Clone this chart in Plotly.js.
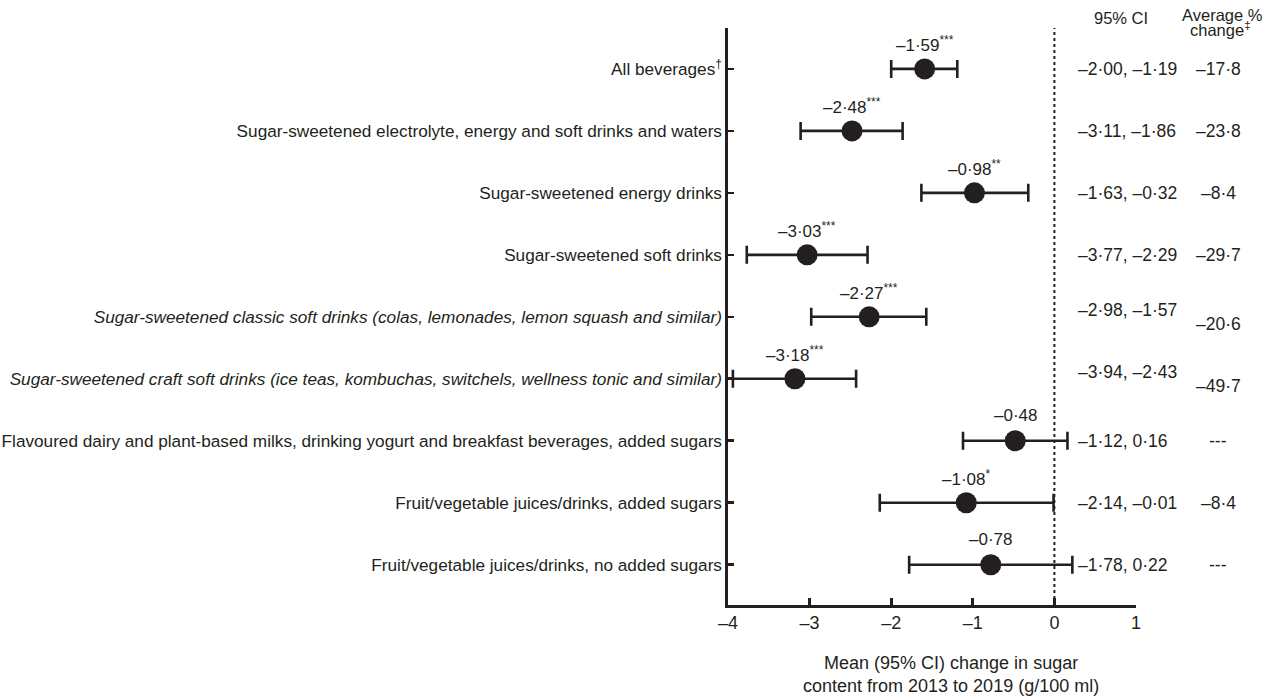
<!DOCTYPE html>
<html>
<head>
<meta charset="utf-8">
<script src="https://cdn.plot.ly/plotly-3.0.1.min.js"></script>
<style>html,body{margin:0;padding:0;background:#fff;}#chart{width:1271px;height:697px;}</style>
</head>
<body>
<div id="chart"></div>
<script>
const categories = [
  "All beverages<sup>†</sup>",
  "Sugar-sweetened electrolyte, energy and soft drinks and waters",
  "Sugar-sweetened energy drinks",
  "Sugar-sweetened soft drinks",
  "<i>Sugar-sweetened classic soft drinks (colas, lemonades, lemon squash and similar)</i>",
  "<i>Sugar-sweetened craft soft drinks (ice teas, kombuchas, switchels, wellness tonic and similar)</i>",
  "Flavoured dairy and plant-based milks, drinking yogurt and breakfast beverages, added sugars",
  "Fruit/vegetable juices/drinks, added sugars",
  "Fruit/vegetable juices/drinks, no added sugars"
];
const means = [-1.59, -2.48, -0.98, -3.03, -2.27, -3.18, -0.48, -1.08, -0.78];
const ciLow = [-2.00, -3.11, -1.63, -3.77, -2.98, -3.94, -1.12, -2.14, -1.78];
const ciHigh = [-1.19, -1.86, -0.32, -2.29, -1.57, -2.43, 0.16, -0.01, 0.22];
const stars = ["***", "***", "**", "***", "***", "***", "", "*", ""];
const ciText = ["–2·00, –1·19", "–3·11, –1·86", "–1·63, –0·32", "–3·77, –2·29", "–2·98, –1·57", "–3·94, –2·43", "–1·12, 0·16", "–2·14, –0·01", "–1·78, 0·22"];
const avgChange = ["–17·8", "–23·8", "–8·4", "–29·7", "–20·6", "–49·7", "---", "–8·4", "---"];
const xTicks = [-4, -3, -2, -1, 0, 1];
const xTickText = ["–4", "–3", "–2", "–1", "0", "1"];

const rows = categories.map((c, i) => i);
const fmt = v => (v < 0 ? "–" : "") + Math.abs(v).toFixed(2).replace(".", "·");

const ink = "#231f20";
const FONT = "Liberation Sans, Arial, sans-serif";

const trace = {
  type: "scatter", mode: "markers",
  x: means, y: rows,
  marker: {size: 21, color: ink},
  error_x: {
    type: "data", symmetric: false,
    array: means.map((m, i) => ciHigh[i] - m),
    arrayminus: means.map((m, i) => m - ciLow[i]),
    color: ink, thickness: 2.6, width: 9
  },
  hoverinfo: "skip", cliponaxis: false
};

const annotations = [];
rows.forEach(i => {
  annotations.push({
    x: means[i], y: i, xref: "x", yref: "y", yshift: 25, xanchor: "center",
    text: fmt(means[i]) + (stars[i] ? "<sup>" + stars[i] + "</sup>" : ""),
    showarrow: false, font: {family: FONT, size: 17, color: ink}
  });
  const off = (i === 4 || i === 5) ? 7 : 0;
  annotations.push({
    x: 0.853, y: i, xref: "paper", yref: "y", xanchor: "left", yshift: off,
    text: ciText[i], showarrow: false, font: {family: FONT, size: 17.5, color: ink}
  });
  annotations.push({
    x: 1.201, y: i, xref: "paper", yref: "y", xanchor: "center", yshift: -off,
    text: avgChange[i], showarrow: false, font: {family: FONT, size: 17.5, color: ink}
  });
});
annotations.push({
  x: 0.963, y: 1.0173, xref: "paper", yref: "paper", xanchor: "center", yanchor: "middle",
  text: "95% CI", showarrow: false,
  font: {family: FONT, size: 16.5, color: ink}
});
annotations.push({
  x: 1.211, y: 1.0225, xref: "paper", yref: "paper", xanchor: "center", yanchor: "middle",
  text: "Average %", showarrow: false,
  font: {family: FONT, size: 16.5, color: ink}
});
annotations.push({
  x: 1.207, y: 0.9975, xref: "paper", yref: "paper", xanchor: "center", yanchor: "middle",
  text: "change<sup>‡</sup>", showarrow: false,
  font: {family: FONT, size: 16.5, color: ink}
});
annotations.push({
  x: 0.547, y: -0.12, xref: "paper", yref: "paper", xanchor: "center", yanchor: "middle",
  text: "Mean (95% CI) change in sugar<br>content from 2013 to 2019 (g/100 ml)", showarrow: false,
  font: {family: FONT, size: 18, color: ink}
});

const layout = {
  width: 1271, height: 697,
  margin: {l: 728, r: 135, t: 28, b: 92},
  paper_bgcolor: "#fff", plot_bgcolor: "#fff",
  showlegend: false,
  font: {family: FONT, size: 17, color: ink},
  xaxis: {
    range: [-4, 1], tickvals: xTicks, ticktext: xTickText,
    showline: true, linewidth: 2.6, linecolor: ink,
    ticks: "inside", ticklen: 7, tickwidth: 2.6, tickcolor: ink,
    showgrid: false, zeroline: false, fixedrange: true,
    tickfont: {family: FONT, size: 18, color: ink}
  },
  yaxis: {
    range: [8.65, -0.66], tickvals: rows, ticktext: categories,
    showline: true, linewidth: 2.6, linecolor: ink,
    ticks: "inside", ticklen: 6, tickwidth: 2.6, tickcolor: ink,
    showgrid: false, zeroline: false, fixedrange: true,
    ticklabelstandoff: 0,
    tickfont: {family: FONT, size: 17.2, color: ink}
  },
  shapes: [{
    type: "line", xref: "x", yref: "paper", x0: 0, x1: 0, y0: 0, y1: 1,
    line: {color: ink, width: 2, dash: "dot"}, layer: "below"
  }],
  annotations: annotations
};

Plotly.newPlot("chart", [trace], layout, {displayModeBar: false, staticPlot: true});
</script>
</body>
</html>
